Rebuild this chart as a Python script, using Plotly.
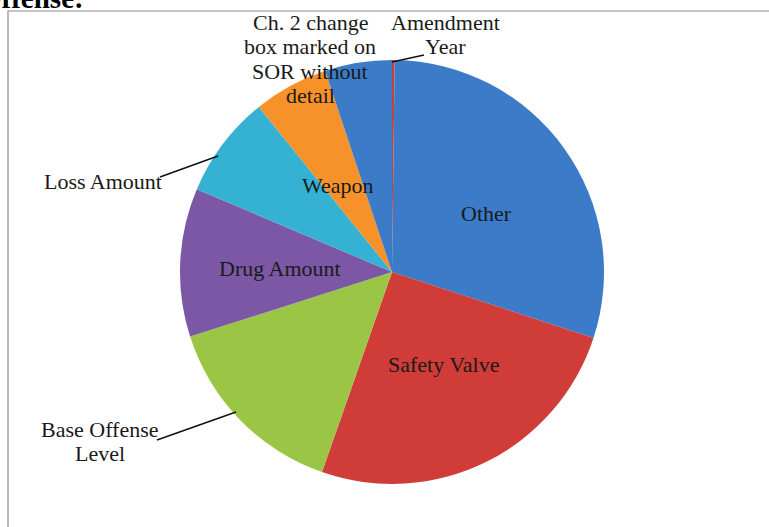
import plotly.graph_objects as go

# ---- data ----
labels = ["Amendment Year", "Other", "Safety Valve", "Base Offense Level",
          "Drug Amount", "Loss Amount",
          "Ch. 2 change box marked on SOR without detail", "Weapon"]
label_lines = [["Amendment", "Year"], ["Other"], ["Safety Valve"],
               ["Base Offense", "Level"], ["Drug Amount"], ["Loss Amount"],
               ["Ch. 2 change", "box marked on", "SOR without", "detail"],
               ["Weapon"]]
values = [0.2, 29.8, 25.3, 14.7, 11.3, 7.8, 5.7, 5.1]
colors = ["#C8403A", "#3B7BC8", "#D03C38", "#9BC645",
          "#7B57A5", "#35B1D4", "#F7922A", "#3B7BC8"]
title_text = "Offense:"

# ---- layout helpers (pixel -> paper) ----
W, H = 769, 527
def px(x):
    return x / W
def py(y):
    return 1 - y / H

cx, cy, r = 392, 272, 212

# label centre positions (px) and leader lines
label_pos = [(445, 22), (486, 213), (443, 364), (100, 429),
             (280, 269), (103, 181), (310, 22), (338, 185)]
leaders = {0: ((392, 62), (424, 55)),
           3: ((157, 440), (236, 412)),
           5: ((160, 177), (218, 156))}
line_gap = 24.5
FONT = "Liberation Serif"

fig = go.Figure(go.Pie(
    labels=labels, values=values, sort=False, direction="clockwise",
    rotation=0, textinfo="none", hoverinfo="label+percent",
    marker=dict(colors=colors, line=dict(width=0)),
    domain=dict(x=[px(cx - r), px(cx + r)], y=[py(cy + r), py(cy - r)]),
    showlegend=False,
))

annotations = []
for i, lines in enumerate(label_lines):
    x0, y0 = label_pos[i]
    for k, t in enumerate(lines):
        annotations.append(dict(
            x=px(x0), y=py(y0 + k * line_gap), xref="paper", yref="paper",
            text=t, showarrow=False, xanchor="center", yanchor="middle",
            font=dict(family=FONT, size=22, color="#1a1a1a")))

annotations.append(dict(
    x=px(86), y=py(16), xref="paper", yref="paper", text="<b>" + title_text + "</b>",
    showarrow=False, xanchor="right", yanchor="bottom",
    font=dict(family=FONT, size=29, color="#000000")))

shapes = [dict(type="rect", xref="paper", yref="paper",
               x0=px(8), x1=1.05, y0=-0.05, y1=py(11),
               line=dict(color="#8c8c8c", width=1.2), fillcolor="rgba(0,0,0,0)")]
for i, ((xa, ya), (xb, yb)) in leaders.items():
    shapes.append(dict(type="line", xref="paper", yref="paper",
                       x0=px(xa), y0=py(ya), x1=px(xb), y1=py(yb),
                       line=dict(color="#111111", width=1.5)))

fig.update_layout(
    width=W, height=H, margin=dict(l=0, r=0, t=0, b=0),
    paper_bgcolor="white", plot_bgcolor="white",
    annotations=annotations, shapes=shapes,
)

fig.write_html("out.html")
